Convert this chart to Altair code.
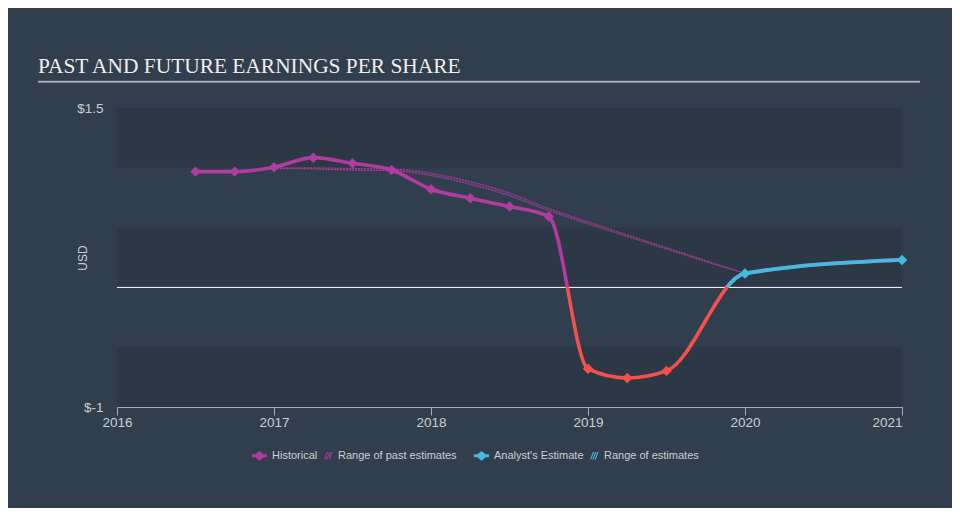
import altair as alt
import pandas as pd

# ---------------- data ----------------
title_text = ["PAST AND FUTURE EARNINGS PER SHARE"]

hist_t = [2016.5, 2016.75, 2017.0, 2017.25, 2017.5, 2017.75, 2018.0,
          2018.25, 2018.5, 2018.75, 2019.0, 2019.25, 2019.5]
hist_eps = [0.968, 0.968, 1.005, 1.085, 1.038, 0.982, 0.821,
            0.746, 0.676, 0.592, -0.681, -0.757, -0.698]

est_t = [2020.0, 2021.0]
est_eps = [0.117, 0.23]

range_t = [2017.0, 2017.25, 2017.5, 2017.75, 2018.0, 2018.25, 2018.5,
           2018.75, 2019.0, 2019.25, 2019.5, 2019.75, 2020.0]
range_hi = [1.0, 1.0, 0.995, 0.99, 0.955, 0.885, 0.79,
            0.66, 0.548, 0.44, 0.333, 0.225, 0.117]
range_lo = [0.995, 0.99, 0.98, 0.975, 0.935, 0.86, 0.765,
            0.64, 0.53, 0.425, 0.32, 0.215, 0.117]

band_lo = [1.0, 0.0, -1.0]
band_hi = [1.5, 0.5, -0.5]
band_x0 = [2016, 2016, 2016]
band_x1 = [2021, 2021, 2021]

x_ticks = [2016, 2017, 2018, 2019, 2020, 2021]
y_ticks = [1.5, -1]
y_domain = [-1, 1.5]
x_domain = [2016, 2021]

legend_past = ["Historical", "Range of past estimates"]
legend_future = ["Analyst's Estimate", "Range of estimates"]

# ---------------- style ----------------
BG = "#313e4d"
BAND = "#2c3846"
MAG = "#b13b9e"
RED = "#f5504c"
CYAN = "#45b9e0"
AXIS = "#9fadbb"
LBL = "#c9ced4"
TITLE = "#eeeeee"
FONT = "Liberation Sans"
W, H = 785, 299

DIAMOND_LINE = ("M-1,-0.2L-0.55,-0.2L0,-0.65L0.55,-0.2L1,-0.2L1,0.2L0.55,0.2"
                "L0,0.65L-0.55,0.2L-1,0.2Z")
HATCH = ("M-0.2,0.5L-0.05,0.5L0.35,-0.5L0.2,-0.5Z"
         "M0.1,0.5L0.25,0.5L0.65,-0.5L0.5,-0.5Z"
         "M0.4,0.5L0.55,0.5L0.95,-0.5L0.8,-0.5Z")

xs = alt.Scale(domain=x_domain, nice=False, zero=False)
ys = alt.Scale(domain=y_domain, nice=False, zero=False)

x_axis = alt.Axis(values=x_ticks, format="d", title=None, grid=False,
                  domainColor=AXIS, tickColor=AXIS, tickSize=8, labelPadding=0,
                  labelColor=LBL, labelFontSize=13.5, labelFont=FONT,
                  labelFlush=False,
                  labelAlign={"condition": {"test": "datum.value >= 2021", "value": "right"},
                              "value": "center"})
y_axis = alt.Axis(values=y_ticks, labelExpr="'$' + toString(datum.value)",
                  title="USD", titleColor=LBL, titleFont=FONT, titleFontSize=12,
                  titleFontWeight="normal", titleX=-35, titleY=H / 2,
                  titleAngle=270, titleBaseline="middle", titleAlign="center",
                  domain=False, ticks=False, grid=False, labelPadding=14,
                  labelColor=LBL, labelFontSize=13.5, labelFont=FONT)


def X(field):
    return alt.X(field, scale=xs, axis=x_axis)


def Y(field):
    return alt.Y(field, scale=ys, axis=y_axis)


# ---------------- layers ----------------
bands_df = pd.DataFrame({"lo": band_lo, "hi": band_hi, "x0": band_x0, "x1": band_x1})
bands = alt.Chart(bands_df).mark_rect(color=BAND).encode(
    x=X("x0:Q"), x2="x1", y=Y("lo:Q"), y2="hi")

zero = alt.Chart(pd.DataFrame({"z": [0]})).mark_rule(
    color="#ffffff", strokeWidth=1).encode(y=Y("z:Q"))

rng = pd.DataFrame({"t": range_t, "hi": range_hi, "lo": range_lo})
rng_area = alt.Chart(rng).mark_area(color=MAG, opacity=0.3, interpolate="monotone").encode(
    x=X("t:Q"), y=Y("lo:Q"), y2="hi")
rng_hi = alt.Chart(rng).mark_line(color=MAG, strokeWidth=1, strokeDash=[2, 1],
                                  opacity=0.9, interpolate="monotone").encode(
    x=X("t:Q"), y=Y("hi:Q"))
rng_lo = alt.Chart(rng).mark_line(color=MAG, strokeWidth=1, strokeDash=[2, 1],
                                  opacity=0.9, interpolate="monotone").encode(
    x=X("t:Q"), y=Y("lo:Q"))

all_t = hist_t + est_t
all_v = hist_eps + est_eps
f1 = max(all_v) / (max(all_v) - min(all_v))
grad1 = alt.LinearGradient(
    gradient="linear", x1=0, y1=0, x2=0, y2=1,
    stops=[alt.GradientStop(color=MAG, offset=0), alt.GradientStop(color=MAG, offset=f1),
           alt.GradientStop(color=RED, offset=f1), alt.GradientStop(color=RED, offset=1)])
line1 = alt.Chart(pd.DataFrame({"t": all_t, "v": all_v})).mark_line(
    stroke=grad1, strokeWidth=3.6, interpolate="monotone").encode(
    x=X("t:Q"), y=Y("v:Q"))

l2_t = hist_t[-2:] + est_t
l2_v = hist_eps[-2:] + est_eps
f2 = max(l2_v) / (max(l2_v) - min(l2_v))
grad2 = alt.LinearGradient(
    gradient="linear", x1=0, y1=0, x2=0, y2=1,
    stops=[alt.GradientStop(color=CYAN, offset=0), alt.GradientStop(color=CYAN, offset=f2),
           alt.GradientStop(color="rgba(0,0,0,0)", offset=f2),
           alt.GradientStop(color="rgba(0,0,0,0)", offset=1)])
line2 = alt.Chart(pd.DataFrame({"t": l2_t, "v": l2_v})).mark_line(
    stroke=grad2, strokeWidth=3.9, interpolate="monotone").encode(
    x=X("t:Q"), y=Y("v:Q"))

hist_pts = alt.Chart(pd.DataFrame({"t": hist_t, "v": hist_eps})).mark_point(
    shape="diamond", filled=True, size=110, opacity=1).encode(
    x=X("t:Q"), y=Y("v:Q"),
    color=alt.condition("datum.v < 0", alt.value(RED), alt.value(MAG)))
est_pts = alt.Chart(pd.DataFrame({"t": est_t, "v": est_eps})).mark_point(
    shape="diamond", filled=True, size=110, opacity=1, color=CYAN).encode(
    x=X("t:Q"), y=Y("v:Q"))


def legend_layer(names, colors, field, lx):
    leg = alt.Legend(title=None, orient="none", legendX=lx, legendY=340,
                     direction="horizontal", columns=2, symbolSize=225,
                     labelFont=FONT, labelFontSize=11, labelColor=LBL,
                     labelOffset=5, columnPadding=0, padding=0, symbolStrokeWidth=0)
    return alt.Chart(pd.DataFrame({field: names})).transform_filter("false").mark_point(
        filled=True, opacity=1, size=225).encode(
        color=alt.Color(f"{field}:N", scale=alt.Scale(domain=names, range=colors), legend=leg),
        shape=alt.Shape(f"{field}:N", scale=alt.Scale(domain=names, range=[DIAMOND_LINE, HATCH]),
                        legend=leg))


leg1 = legend_layer(legend_past, [MAG, MAG], "s1", 135)
leg2 = legend_layer(legend_future, [CYAN, CYAN], "s2", 357)

title_df = pd.DataFrame({"title": title_text})
title = alt.Chart(title_df).mark_text(
    align="left", baseline="alphabetic", font="Liberation Serif", fontSize=21.4,
    color=TITLE).encode(text="title:N", x=alt.value(-79), y=alt.value(-34.7))
underline = alt.Chart(title_df).mark_rule(color="#a4acb5", strokeWidth=2).encode(
    x=alt.value(-79), x2=alt.value(803), y=alt.value(-26.3))

chart = alt.layer(
    bands, zero, rng_area, rng_hi, rng_lo, line1, line2, hist_pts, est_pts,
    leg1, leg2, title, underline
).resolve_scale(color="independent", shape="independent").properties(
    width=W, height=H,
    padding={"left": 109, "top": 100, "right": 50, "bottom": 101},
    autosize=alt.AutoSizeParams(type="none"),
    background=BG,
).configure_view(strokeWidth=0)

chart.save("out.html", embed_options={"renderer": "svg", "actions": False})
